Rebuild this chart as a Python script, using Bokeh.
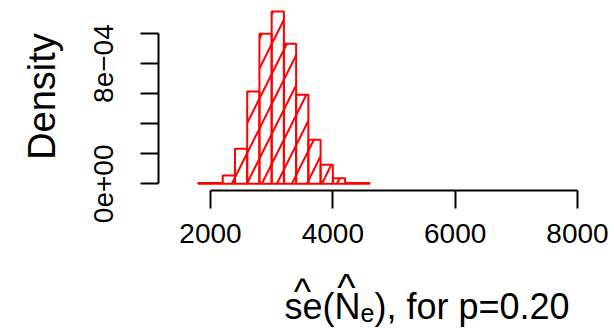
import math
from bokeh.plotting import figure
from bokeh.models import FixedTicker, Range1d, ColumnDataSource
from bokeh.core.properties import value
from bokeh.embed import file_html
from bokeh.resources import INLINE

# ---- data ----
bin_edges = [1800, 2000, 2200, 2400, 2600, 2800, 3000, 3200, 3400,
             3600, 3800, 4000, 4200, 4400, 4600]
densities = [5e-6, 5e-6, 5.5e-5, 2.33e-4, 6.14e-4, 9.98e-4, 1.146e-3,
             9.31e-4, 5.92e-4, 2.93e-4, 1.26e-4, 3.7e-5, 5e-6, 5e-6]
x_ticks = [2000, 4000, 6000, 8000]
y_major_ticks = [0.0, 0.0008]
y_minor_ticks = [0.0002, 0.0004, 0.0006, 0.001]
y_tick_labels = {0.0: "0e+00", 0.0008: "8e\u221204"}
y_label = "Density"
x_label_parts = ["se(", "N", "e", "), for p=0.20", "^", "^"]

# ---- layout (pixel geometry of the R plot) ----
W, H = 614, 328
PX_PER_X = (577.0 - 210.0) / 6000.0      # px per data unit (x)
X_AT = (210.0, 2000.0)                    # pixel x of x=2000
PX_PER_Y = 150300.0                       # px per density unit
Y_ZERO_PX = 183.3                         # pixel y of density 0
XAXIS_PX = 190.0                          # pixel y of the x axis line
YAXIS_PX = 158.0                          # pixel x of the y axis line
BASE_FIX = 11                             # text baseline correction (px)
FONT = "Liberation Sans"

def dx(px):
    return X_AT[1] + (px - X_AT[0]) / PX_PER_X
def dy(py):
    return (Y_ZERO_PX - py) / PX_PER_Y

p = figure(width=W, height=H, output_backend="svg", toolbar_location=None,
           x_range=Range1d(dx(0), dx(W)), y_range=Range1d(dy(H), dy(0)),
           min_border=0)
p.outline_line_color = None
p.grid.visible = False
p.background_fill_color = "white"
p.border_fill_color = "white"

p.quad(left=bin_edges[:-1], right=bin_edges[1:], bottom=0, top=densities,
       fill_color=None, line_color="red", line_width=2,
       hatch_pattern="/", hatch_color="red", hatch_scale=30, hatch_weight=2)

# axes, R style
for ax in (p.xaxis[0], p.yaxis[0]):
    ax.axis_line_color = "black"
    ax.axis_line_width = 2
    ax.major_tick_line_color = "black"
    ax.major_tick_line_width = 2
    ax.major_tick_in = 0
    ax.major_tick_out = 18
    ax.minor_tick_line_color = "black"
    ax.minor_tick_line_width = 2
    ax.minor_tick_in = 0
    ax.minor_tick_out = 18
    ax.major_label_text_font = FONT
    ax.major_label_text_font_size = "28px"
    ax.major_label_text_color = "black"

xa = p.xaxis[0]
xa.ticker = FixedTicker(ticks=x_ticks)
xa.bounds = (x_ticks[0], x_ticks[-1])
xa.fixed_location = dy(XAXIS_PX)
xa.major_label_standoff = 15

ya = p.yaxis[0]
ya.ticker = FixedTicker(ticks=y_major_ticks, minor_ticks=y_minor_ticks)
ya.bounds = (0, 0.001)
ya.fixed_location = dx(YAXIS_PX)
ya.major_label_overrides = y_tick_labels
ya.major_label_orientation = "vertical"
ya.major_label_standoff = 27

# ---- y-axis title ----
p.text(x=[dx(50 - 9)], y=[dy(96)], text=[y_label], angle=math.pi / 2,
       text_font=value(FONT), text_font_size="38px", text_align="center",
       text_baseline="alphabetic", text_color="black")

# ---- x-axis title built from pieces (hats + subscript) ----
px_x = [284, 334, 360, 374, 302, 346]
px_y = [317, 317, 323, 317, 302, 298]
sizes = ["36px", "36px", "25px", "36px", "37px", "39px"]
aligns = ["left", "left", "left", "left", "center", "center"]
src = ColumnDataSource(dict(x=[dx(v) for v in px_x],
                            y=[dy(v - BASE_FIX) for v in px_y],
                            text=x_label_parts, size=sizes, align=aligns))
p.text(x="x", y="y", text="text", source=src, text_font=value(FONT),
       text_font_size="size", text_align="align", text_baseline="alphabetic",
       text_color="black")

open("out.html", "w").write(file_html(p, INLINE))
